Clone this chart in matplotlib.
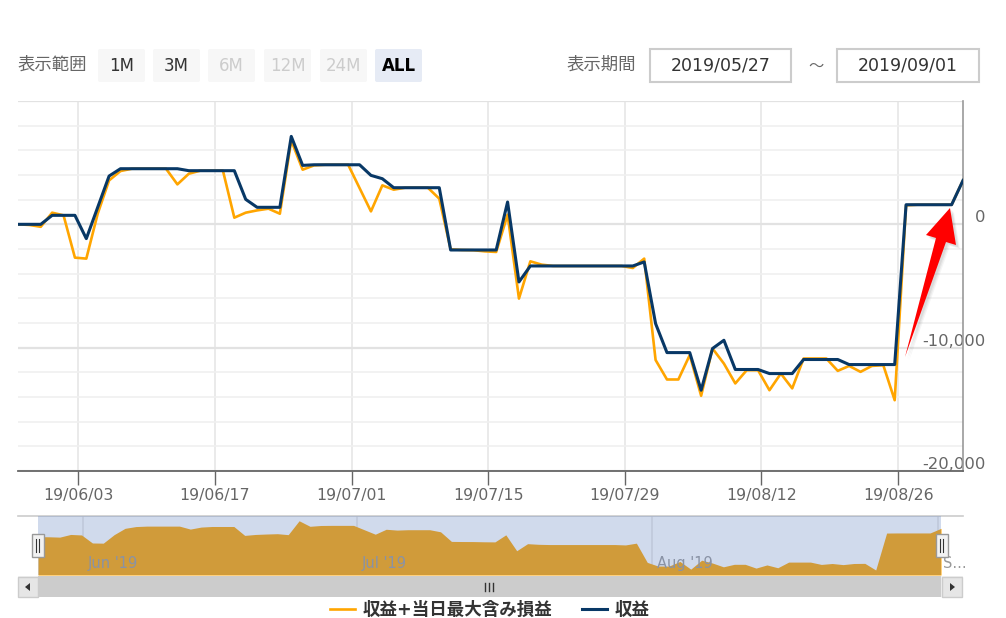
import numpy as np
import matplotlib.pyplot as plt
from matplotlib.patches import Rectangle, FancyBboxPatch, Polygon
from matplotlib.transforms import ScaledTranslation

plt.rcParams['font.family'] = ['DejaVu Sans', 'Noto Sans CJK JP']

# one point per trading day (Mon-Sat), 2019/05/27 - 2019/09/01
profit_float = [0, -50, -200, 945, 730, -2700, -2780, 860, 3560, 4320,
                4510, 4510, 4510, 4510, 3240, 4100, 4350, 4350, 4350, 540,
                945, 1130, 1270, 860, 6800, 4430, 4780, 4830, 4830, 4830,
                2940, 1050, 3160, 2810, 2970, 2970, 2970, 2080, -2025, -2080,
                -2100, -2190, -2240, 780, -6020, -3000, -3270, -3375, -3375, -3375,
                -3375, -3375, -3375, -3375, -3540, -2780, -11000, -12580, -12580, -10600,
                -13900, -10070, -11290, -12900, -11830, -11830, -13450, -12100, -13300, -10880,
                -10880, -10880, -11880, -11480, -11960, -11480, -11420, -14260, 1540, 1590,
                1590, 1590, 1590, 3560]
profit = [0, 0, 0, 730, 730, 730, -1160, 1380, 3915, 4510,
          4510, 4510, 4510, 4510, 4510, 4350, 4350, 4350, 4350, 4350,
          2025, 1380, 1380, 1380, 7130, 4780, 4830, 4830, 4830, 4830,
          4830, 3970, 3700, 2970, 2970, 2970, 2970, 2970, -2080, -2080,
          -2080, -2080, -2080, 1810, -4670, -3375, -3375, -3375, -3375, -3375,
          -3375, -3375, -3375, -3375, -3375, -3050, -8050, -10400, -10400, -10400,
          -13450, -10070, -9400, -11770, -11770, -11770, -12100, -12100, -12100, -10960,
          -10960, -10960, -10960, -11370, -11370, -11370, -11370, -11370, 1590, 1590,
          1590, 1590, 1590, 3560]

x_labels = ['19/06/03', '19/06/17', '19/07/01', '19/07/15', '19/07/29', '19/08/12', '19/08/26']
y_labels = ['-20,000', '-10,000', '0', '']
nav_labels = ["Jun '19", "Jul '19", "Aug '19", "S..."]
nav_month_pos = [4.15, 29.3, 56.4, 82.7]
range_buttons = ['1M', '3M', '6M', '12M', '24M', 'ALL']
period = ['2019/05/27', '2019/09/01']

W, H = 1006, 618
fig = plt.figure(figsize=(W / 100, H / 100), dpi=100)


def box(l, t, r, b):
    return [l / W, 1 - b / H, (r - l) / W, (b - t) / H]


x = np.arange(len(profit))
n = len(x) - 1

# main chart
ax = fig.add_axes(box(18, 101, 963, 471))
ax.plot(x, profit_float, color='#ffa500', lw=1.9, label='収益+当日最大含み損益', zorder=3)
ax.plot(x, profit, color='#083866', lw=2.2, label='収益', zorder=4)
ax.set_xlim(0, n)
ax.set_ylim(-20000, 10000)
ax.set_axisbelow(True)

ax.set_yticks([-20000, -10000, 0, 10000])
ax.set_yticks(np.arange(-18000, 10000, 2000), minor=True)
ax.set_yticklabels(y_labels)
ax.yaxis.tick_right()
ax.tick_params(axis='y', which='both', length=0, pad=16, labelsize=11.8, labelcolor='#666666')
for t in ax.yaxis.get_major_ticks():
    t.label2.set_horizontalalignment('right')
    t.label2.set_transform(t.label2.get_transform() + ScaledTranslation(0, 0.08, fig.dpi_scale_trans))
ax.grid(axis='y', which='major', color='#e2e2e2', lw=1.6)
ax.grid(axis='y', which='minor', color='#f0f0f0', lw=1.2)

ax.set_xticks(5.3 + 12 * np.arange(len(x_labels)))
ax.set_xticklabels(x_labels)
ax.tick_params(axis='x', length=10, width=1, color='#666666', pad=2, labelsize=11.3, labelcolor='#666666')
ax.grid(axis='x', color='#e6e6e6', lw=1.2)

for s in ['left', 'top']:
    ax.spines[s].set_visible(False)
ax.spines['bottom'].set_color('#666666')
ax.spines['bottom'].set_linewidth(1.3)
ax.spines['right'].set_color('#999999')
ax.spines['right'].set_linewidth(1.2)

# navigator
step = (941 - 38) / n
nav = fig.add_axes(box(18, 516, 963, 575))
nav.set_xlim(-(38 - 18) / step, n + (963 - 941) / step)
nav.set_ylim(-16400, 8840)
nav.fill_between(x, profit_float, -16400, color='#ffa500', lw=0, zorder=2)
nav.axvspan(0, n, color='#6685c2', alpha=0.3, lw=0, zorder=4)
for pos, lab in zip(nav_month_pos, nav_labels):
    nav.axvline(pos, color='#e6e6e6', lw=1.2, zorder=1)
    nav.text(pos + 5 / step, 0.2, lab, transform=nav.get_xaxis_transform(),
             fontsize=10.5, color='#999999', va='center', ha='left', zorder=3)
nav.set_xticks([])
nav.set_yticks([])
for s in ['left', 'right', 'bottom']:
    nav.spines[s].set_visible(False)
nav.spines['top'].set_color('#cccccc')
nav.spines['top'].set_linewidth(1.2)

# overlay for controls, scrollbar and annotation
ui = fig.add_axes([0, 0, 1, 1])
ui.set_xlim(0, W)
ui.set_ylim(H, 0)
ui.axis('off')

ui.text(18, 65, '表示範囲', fontsize=12.5, color='#666666', va='center', ha='left')
btn_left = [98, 153, 208, 264, 320, 375]
for bx, lab in zip(btn_left, range_buttons):
    active = lab == 'ALL'
    disabled = lab in ('6M', '12M', '24M')
    ui.add_patch(FancyBboxPatch((bx, 49), 47, 33, boxstyle='round,pad=0,rounding_size=2',
                                fc='#e6ebf5' if active else '#f7f7f7', ec='none'))
    ui.text(bx + 23.5, 66, lab, fontsize=12, ha='center', va='center',
            color='#000000' if active else ('#cccccc' if disabled else '#333333'),
            weight='bold' if active else 'normal')

ui.text(567, 65, '表示期間', fontsize=12.5, color='#666666', va='center', ha='left')
for (l, r), d in zip([(650, 791), (837, 979)], period):
    ui.add_patch(Rectangle((l, 49), r - l, 33, fc='white', ec='#cccccc', lw=1.5))
    ui.text((l + r) / 2, 66, d, fontsize=12.5, color='#333333', ha='center', va='center')
ui.text(816, 66, '～', fontsize=11, color='#666666', ha='center', va='center')

# handles
for hx in (32, 936):
    ui.add_patch(Rectangle((hx, 534), 12, 23, fc='#f2f2f2', ec='#999999', lw=1, zorder=5))
    ui.plot([hx + 4.5, hx + 4.5], [539, 552], color='#333333', lw=0.8, zorder=6)
    ui.plot([hx + 7.5, hx + 7.5], [539, 552], color='#333333', lw=0.8, zorder=6)

# scrollbar
ui.add_patch(Rectangle((18, 576), 945, 21, fc='#f2f2f2', ec='none'))
ui.add_patch(Rectangle((38, 576), 903, 21, fc='#cccccc', ec='none'))
ui.add_patch(Rectangle((18.5, 576.5), 19.5, 20, fc='#e6e6e6', ec='#cccccc', lw=1))
ui.add_patch(Rectangle((942, 576.5), 20.5, 20, fc='#e6e6e6', ec='#cccccc', lw=1))
ui.add_patch(Polygon([(25, 587), (30, 583), (30, 591)], closed=True, fc='#333333', ec='none'))
ui.add_patch(Polygon([(955, 587), (950, 583), (950, 591)], closed=True, fc='#333333', ec='none'))
for gx in (485.5, 489.5, 493.5):
    ui.plot([gx, gx], [583, 591], color='#333333', lw=1)

# red arrow annotation with a soft shadow
arrow = [(950, 208), (926, 235), (936, 238), (905, 357), (946, 242), (956, 245)]
for off, a in ((4, 0.04), (3, 0.05), (2, 0.06)):
    ui.add_patch(Polygon([(px + off, py + off) for px, py in arrow], closed=True,
                         fc='#000000', alpha=a, ec='none', zorder=7))
ui.add_patch(Polygon(arrow, closed=True, fc='#ff0000', ec='none', zorder=8))

# legend
h, l = ax.get_legend_handles_labels()
fig.legend(h, l, loc='center', bbox_to_anchor=(490 / W, 1 - 610 / H), ncol=2, frameon=False,
           prop={'weight': 'bold', 'size': 12.6}, labelcolor='#333333',
           handlelength=1.4, handletextpad=0.45, columnspacing=1.7)

fig.savefig('out.png', dpi=100)
